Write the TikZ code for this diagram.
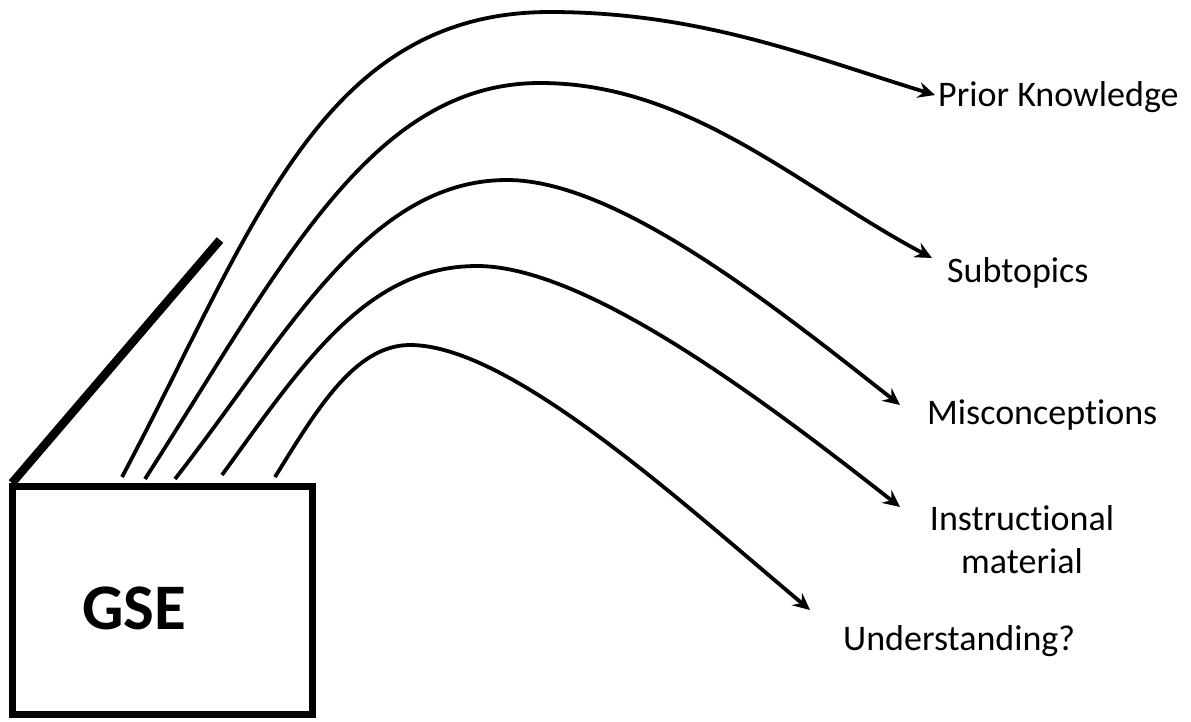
\documentclass[tikz,border=0pt]{standalone}
\usepackage{fontspec}
\setmainfont{Carlito}[Ligatures=NoCommon]
\usetikzlibrary{arrows.meta}
\begin{document}
\begin{tikzpicture}[x=1pt,y=-1pt,
  lbl/.style={anchor=base west,inner sep=0pt,font=\fontsize{36}{43}\selectfont},
  curve/.style={line width=3.8pt,-{Stealth[length=17pt,width=16pt,inset=6pt]}},
  boxline/.style={line width=7pt}]
\useasboundingbox (0,0) rectangle (1191,721);
% box and lid
\node[draw,boxline,minimum width=300pt,minimum height=228pt,inner sep=0pt,outer sep=0pt,anchor=north west] (box) at (12,486) {};
\node[anchor=base west,inner sep=0pt,font=\fontsize{65}{70}\selectfont\bfseries] (gse) at (82,629) {GSE};
\coordinate (lidA) at (12,483);
\coordinate (lidB) at (220,240);
\draw[line width=8.5pt] (lidA) -- (lidB);
% labels
\node[lbl] (pk) at (938,106) {Prior Knowledge};
\node[lbl] (st) at (947,282) {Subtopics};
\node[lbl] (mc) at (927,424) {Misconceptions};
\node[anchor=base,inner sep=0pt,font=\fontsize{36}{43}\selectfont,align=center] (im) at (1022,573) {Instructional\\material};
\node[lbl] (un) at (843,650) {Understanding?};
% start, peak and end points
\coordinate (s1) at (122,477); \coordinate (p1) at (550,12);  \coordinate (e1) at (935,95);
\coordinate (s2) at (145,479); \coordinate (p2) at (540,83);  \coordinate (e2) at (932,258);
\coordinate (s3) at (175,479); \coordinate (p3) at (507,180); \coordinate (e3) at (900,405);
\coordinate (s4) at (222,475); \coordinate (p4) at (477,266); \coordinate (e4) at (900,507);
\coordinate (s5) at (275,477); \coordinate (p5) at (410,345); \coordinate (e5) at (810,610);
% curves
\draw[curve] (s1) .. controls (253,230) and (320,12) .. (p1) .. controls (700,12) and (811,57) .. (e1);
\draw[curve] (s2) .. controls (280,269) and (370,83) .. (p2) .. controls (690,83) and (800,188) .. (e2);
\draw[curve] (s3) .. controls (286,337) and (367,180) .. (p3) .. controls (617,180) and (774,306) .. (e3);
\draw[curve] (s4) .. controls (304,362) and (367,266) .. (p4) .. controls (587,266) and (766,402) .. (e4);
\draw[curve] (s5) .. controls (317,409) and (355,345) .. (p5) .. controls (510,345) and (680,501) .. (e5);
\end{tikzpicture}
\end{document}
